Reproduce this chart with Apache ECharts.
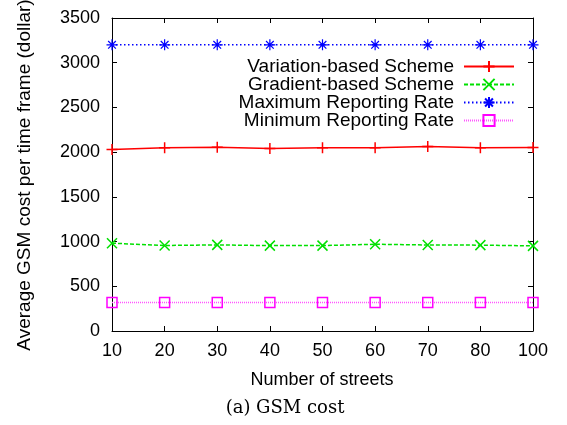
<!DOCTYPE html>
<html>
<head>
<meta charset="utf-8">
<script src="https://cdn.jsdelivr.net/npm/echarts@6/dist/echarts.min.js"></script>
<style>
html,body{margin:0;padding:0;background:#fff;}
#chart{width:567px;height:425px;}
</style>
</head>
<body>
<div id="chart"></div>
<script>
var streets = ['10', '20', '30', '40', '50', '60', '70', '80', '100'];
var variationBased = [2030, 2048, 2056, 2042, 2050, 2050, 2064, 2049, 2052];
var gradientBased  = [982, 956, 963, 955, 955, 970, 962, 960, 952];
var maxRate        = [3200, 3200, 3200, 3200, 3200, 3200, 3200, 3200, 3200];
var minRate        = [318, 318, 318, 318, 318, 318, 318, 318, 318];
var seriesNames = ['Variation-based Scheme', 'Gradient-based Scheme', 'Maximum Reporting Rate', 'Minimum Reporting Rate'];
var yTicks = [0, 500, 1000, 1500, 2000, 2500, 3000, 3500];

var FONT = '"Liberation Sans", Arial, Helvetica, sans-serif';
var SYM_PLUS = 'path://M5,0L5,10M0,5L10,5';
var SYM_X = 'path://M0,0L10,10M10,0L0,10';
var SYM_STAR = 'path://M5,0L5,10M0,5L10,5M1.5,1.5L8.5,8.5M8.5,1.5L1.5,8.5';
var SYM_SQ = 'path://M0,0L10,0L10,10L0,10Z';

var chart = echarts.init(document.getElementById('chart'), null, {renderer:'canvas'});
var axisLineStyle = {show:true, onZero:false, lineStyle:{color:'#000', width:1}};
var tickStyle = {show:true, inside:true, length:5, lineStyle:{color:'#000'}};
chart.setOption({
  animation: false,
  backgroundColor: '#fff',
  grid: {left:112, right:34, top:18, bottom:94, containLabel:false},
  xAxis: [
    {type:'category', data:streets, boundaryGap:false, position:'bottom',
     axisLine:axisLineStyle, axisTick:tickStyle, splitLine:{show:false},
     axisLabel:{show:true, interval:0, color:'#000', fontSize:18, fontFamily:FONT, margin:11}},
    {type:'category', data:streets, boundaryGap:false, position:'top',
     axisLine:axisLineStyle, axisTick:tickStyle, splitLine:{show:false},
     axisLabel:{show:false}}
  ],
  yAxis: [
    {type:'value', min:0, max:3500, interval:500, position:'left',
     axisLine:axisLineStyle, axisTick:tickStyle, splitLine:{show:false},
     axisLabel:{show:true, color:'#000', fontSize:18, fontFamily:FONT, margin:12,
       formatter:function(v){ return yTicks.indexOf(v) >= 0 ? String(v) : ''; }}},
    {type:'value', min:0, max:3500, interval:500, position:'right',
     axisLine:axisLineStyle, axisTick:tickStyle, splitLine:{show:false},
     axisLabel:{show:false}}
  ],
  legend: {
    show:true, orient:'vertical', align:'right', right:47, top:52,
    itemWidth:50, itemHeight:14, itemGap:-1,
    textStyle:{color:'#000', fontSize:19, lineHeight:19, fontFamily:FONT, padding:[0,5,0,0]},
    data: seriesNames
  },
  graphic: [
    {type:'text', x:25, y:175, rotation:Math.PI/2,
     style:{text:'Average GSM cost per time frame (dollar)', fill:'#000', font:'19px ' + FONT, align:'center', verticalAlign:'middle'}},
    {type:'text', x:322, y:380,
     style:{text:'Number of streets', fill:'#000', font:'18px ' + FONT, align:'center', verticalAlign:'middle'}},
    {type:'text', x:285, y:408,
     style:{text:'(a) GSM cost', fill:'#000', font:'18px "DejaVu Serif", "Liberation Serif", serif', align:'center', verticalAlign:'middle'}}
  ],
  series: [
    {name:seriesNames[0], type:'line', data:variationBased, symbol:SYM_PLUS, symbolSize:11,
     lineStyle:{color:'#ff0000', width:1.5, type:'solid'},
     itemStyle:{color:'#ff0000', borderColor:'#ff0000', borderWidth:1.5}, z:3},
    {name:seriesNames[1], type:'line', data:gradientBased, symbol:SYM_X, symbolSize:10,
     lineStyle:{color:'#00e000', width:1.5, type:[4,2]},
     itemStyle:{color:'#00e000', borderColor:'#00e000', borderWidth:1.5}, z:3},
    {name:seriesNames[2], type:'line', data:maxRate, symbol:SYM_STAR, symbolSize:11,
     lineStyle:{color:'#0000ff', width:1.5, type:[1.5,2.5]},
     itemStyle:{color:'#0000ff', borderColor:'#0000ff', borderWidth:1.2}, z:3},
    {name:seriesNames[3], type:'line', data:minRate, symbol:SYM_SQ, symbolSize:10,
     lineStyle:{color:'#ff55ff', width:1.5, type:[1,1]},
     itemStyle:{color:'rgba(0,0,0,0)', borderColor:'#ff00ff', borderWidth:1.5}, z:3}
  ]
});
</script>
</body>
</html>
